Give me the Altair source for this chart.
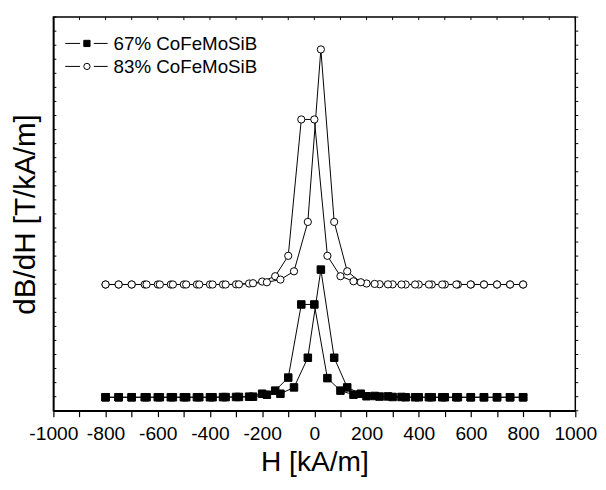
import altair as alt
import pandas as pd

# ---- data ----
series_names = ["67% CoFeMoSiB", "83% CoFeMoSiB"]

# field values of the two sweep branches [kA/m]
H_A = [-800, -750, -700, -650, -600, -550, -500, -450, -400, -350, -300,
       -250, -200, -150, -100, -50, 0, 50, 100, 150, 200, 250,
       300, 350, 400, 450, 500, 550, 600, 650, 700, 750, 800]
H_B = [-800, -750, -700, -643, -592, -542, -491, -441, -390, -340, -289,
       -235, -182, -130, -78, -25, 25, 76, 126, 178, 231,
       282, 334, 386, 439, 490, 544, 599, 650, 700, 750, 800]

# 67% CoFeMoSiB (filled squares), arbitrary units
sq_A = [0.96, 0.96, 0.96, 0.96, 0.96, 0.96, 0.96, 0.96, 0.96, 0.97, 0.98,
        1.00, 1.21, 1.43, 2.36, 7.56, 7.56, 2.32, 1.43, 1.14, 1.03, 1.01,
        0.98, 0.96, 0.96, 0.96, 0.96, 0.96, 0.96, 0.96, 0.96, 0.96, 0.96]
sq_B = [0.96, 0.96, 0.96, 0.96, 0.96, 0.96, 0.96, 0.96, 0.96, 0.97, 0.98,
        1.00, 1.14, 1.21, 1.66, 3.77, 10.04, 3.77, 1.66, 1.21, 1.05,
        1.02, 0.98, 0.96, 0.96, 0.96, 0.96, 0.96, 0.96, 0.96, 0.96, 0.96]

# 83% CoFeMoSiB (open circles), arbitrary units
ci_A = [8.98, 8.98, 8.98, 8.98, 8.98, 8.98, 8.98, 8.98, 8.98, 8.98, 8.99,
        9.05, 9.19, 9.57, 11.02, 20.72, 20.72, 11.02, 9.57, 9.21, 9.05, 9.00,
        8.99, 8.98, 8.98, 8.98, 8.98, 8.98, 8.98, 8.98, 8.98, 8.98, 8.98]
ci_B = [8.98, 8.98, 8.98, 8.98, 8.98, 8.98, 8.98, 8.98, 8.98, 8.98, 8.99,
        9.07, 9.14, 9.33, 9.92, 13.43, 25.70, 13.43, 9.92, 9.14, 9.02,
        8.99, 8.98, 8.98, 8.98, 8.98, 8.98, 8.98, 8.98, 8.98, 8.98, 8.98]

x_ticks = [-1000, -900, -800, -700, -600, -500, -400, -300, -200, -100, 0,
           100, 200, 300, 400, 500, 600, 700, 800, 900, 1000]
y_ticks = [0, 1, 2, 3, 4, 5, 6, 7, 8, 9, 10, 11, 12, 13, 14, 15, 16, 17, 18,
           19, 20, 21, 22, 23, 24, 25, 26, 27, 28]

FONT = "Liberation Sans"
W, Hh = 529, 399

rows = []
for name, branches in [(series_names[0], [(H_A, sq_A), (H_B, sq_B)]),
                       (series_names[1], [(H_A, ci_A), (H_B, ci_B)])]:
    for bi, (hs, ys) in enumerate(branches):
        for i, (h, v) in enumerate(zip(hs, ys)):
            rows.append({"series": name, "key": f"{name}-{bi}", "idx": i,
                         "H": h, "val": v})
df = pd.DataFrame(rows)

x_scale = alt.Scale(domain=[-1000, 1000], nice=False)
y_scale = alt.Scale(domain=[0, 28], nice=False, zero=False)
shape_scale = alt.Scale(domain=series_names, range=["square", "circle"])
fill_scale = alt.Scale(domain=series_names, range=["black", "white"])
size_scale = alt.Scale(domain=series_names, range=[58, 54])

x_axis = alt.Axis(values=x_ticks,
                  labelExpr="datum.value % 200 === 0 ? '' + datum.value : ''",
                  labelOverlap=False, labelFlush=False,
                  tickSize=6, tickWidth=1.2, labelPadding=8,
                  labelFontSize=19.5, grid=False,
                  title="H [kA/m]", titleFontSize=28.5,
                  titlePadding=5, domainWidth=1.5)
y_axis = alt.Axis(labels=False, ticks=False, grid=False,
                  title="dB/dH [T/kA/m]", titleFontSize=30,
                  titlePadding=13, domainWidth=1.5)


def X(field):
    return alt.X(field, scale=x_scale, axis=x_axis)


def Y(field):
    return alt.Y(field, scale=y_scale, axis=y_axis)


lines = alt.Chart(df).mark_line(color="black", strokeWidth=1).encode(
    x=X("H:Q"), y=Y("val:Q"), detail="key:N", order="idx:Q")

points = alt.Chart(df).mark_point(filled=True, opacity=1, strokeWidth=1,
                                  stroke="black").encode(
    x=X("H:Q"), y=Y("val:Q"),
    shape=alt.Shape("series:N", scale=shape_scale, legend=None),
    fill=alt.Fill("series:N", scale=fill_scale, legend=None),
    size=alt.Size("series:N", scale=size_scale, legend=None))

# inward/outward frame ticks
xt = pd.DataFrame({"H": x_ticks})
yt = pd.DataFrame({"val": y_ticks})
top_ticks = alt.Chart(xt).mark_rule(color="black", strokeWidth=1).encode(
    x=X("H:Q"), y=alt.value(0), y2=alt.value(3))
left_ticks = alt.Chart(yt).mark_rule(color="black", strokeWidth=1).encode(
    y=Y("val:Q"), x=alt.value(0), x2=alt.value(3))
right_ticks = alt.Chart(yt).mark_rule(color="black", strokeWidth=1).encode(
    y=Y("val:Q"), x=alt.value(W), x2=alt.value(W + 3))

# legend (top-left, inside the plot)
legend_layers = []
for name, ypix in zip(series_names, [26.7, 50.0]):
    ld = pd.DataFrame({"series": [name]})
    base = alt.Chart(ld)
    legend_layers += [
        base.mark_rule(color="black", strokeWidth=1).encode(
            x=alt.value(12), x2=alt.value(27), y=alt.value(ypix)),
        base.mark_rule(color="black", strokeWidth=1).encode(
            x=alt.value(41), x2=alt.value(55), y=alt.value(ypix)),
        base.mark_point(filled=True, opacity=1, strokeWidth=1,
                        stroke="black").encode(
            x=alt.value(34), y=alt.value(ypix),
            shape=alt.Shape("series:N", scale=shape_scale, legend=None),
            fill=alt.Fill("series:N", scale=fill_scale, legend=None),
            size=alt.value(40)),
        base.mark_text(align="left", baseline="middle", fontSize=19,
                       font=FONT, color="black").encode(
            x=alt.value(61), y=alt.value(ypix + 1), text="series:N"),
    ]

chart = alt.layer(lines, points, top_ticks, left_ticks, right_ticks,
                  *legend_layers).properties(
    width=W, height=Hh,
    padding={"left": 46, "top": 6, "right": 23, "bottom": 69},
    autosize=alt.AutoSizeParams(type="none"),
).configure_view(stroke="black", strokeWidth=1.5).configure_axis(
    labelFont=FONT, titleFont=FONT, labelColor="black", titleColor="black",
    domainColor="black", tickColor="black", titleFontWeight="normal")

chart.save("out.html", embed_options={"renderer": "svg", "actions": False})
